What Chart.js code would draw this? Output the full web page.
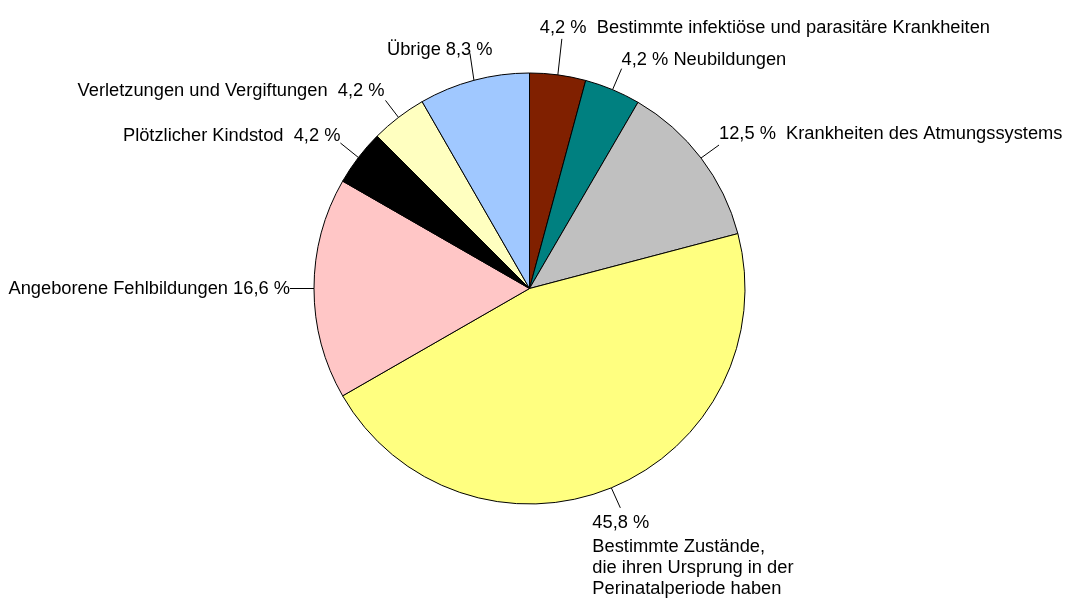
<!DOCTYPE html>
<html>
<head>
<meta charset="utf-8">
<script src="https://cdn.jsdelivr.net/npm/chart.js@4/dist/chart.umd.min.js"></script>
<style>
  html, body { margin: 0; padding: 0; background: #fff; }
  canvas { display: block; }
</style>
</head>
<body>
<canvas id="c" width="1070" height="601"></canvas>
<script>
// ---- data ----
const categories = [
  "Bestimmte infektiöse und parasitäre Krankheiten",
  "Neubildungen",
  "Krankheiten des Atmungssystems",
  "Bestimmte Zustände, die ihren Ursprung in der Perinatalperiode haben",
  "Angeborene Fehlbildungen",
  "Plötzlicher Kindstod",
  "Verletzungen und Vergiftungen",
  "Übrige"
];
const shares = [4.2, 4.2, 12.5, 45.8, 16.6, 4.2, 4.2, 8.3];
const sliceColors = ["#802000", "#008080", "#c0c0c0", "#ffff80", "#ffc6c6", "#000000", "#ffffc0", "#a0c8ff"];

// label text lines (as printed in the chart)
const labelLines = [
  ["4,2 %  Bestimmte infektiöse und parasitäre Krankheiten"],
  ["4,2 % Neubildungen"],
  ["12,5 %  Krankheiten des Atmungssystems"],
  ["45,8 %", "Bestimmte Zustände,", "die ihren Ursprung in der", "Perinatalperiode haben"],
  ["Angeborene Fehlbildungen 16,6 %"],
  ["Plötzlicher Kindstod  4,2 %"],
  ["Verletzungen und Vergiftungen  4,2 %"],
  ["Übrige 8,3 %"]
];

// ---- label layout (leader end offset from slice edge, text offset from leader end) ----
const leaderOffsets = [[4,-36],[9,-21],[18,-13],[9,20],[-24,0],[-18,-14.5],[-13,-17],[-4,-27]];
const textOffsets = [[-22,-6],[0,-4],[0,-6],[-28,20],[0,5.5],[0,-2],[-1,-4],[-83,2]];
const textAlign = ["left","left","left","left","right","right","right","left"];
const lineGaps = [0, 24, 45, 66];

const FONT = "18.3px 'Liberation Sans', Arial, sans-serif";

const labelPlugin = {
  id: 'leaderLabels',
  afterDraw(chart) {
    const ctx = chart.ctx;
    const meta = chart.getDatasetMeta(0);
    ctx.save();
    ctx.font = FONT;
    ctx.fillStyle = '#000';
    ctx.strokeStyle = '#000';
    ctx.lineWidth = 1;
    ctx.textBaseline = 'alphabetic';
    meta.data.forEach((arc, i) => {
      const p = arc.getProps(['x','y','startAngle','endAngle','outerRadius'], true);
      const mid = (p.startAngle + p.endAngle) / 2;
      const ax = p.x + Math.cos(mid) * p.outerRadius;
      const ay = p.y + Math.sin(mid) * p.outerRadius;
      const ex = ax + leaderOffsets[i][0];
      const ey = ay + leaderOffsets[i][1];
      ctx.beginPath();
      ctx.moveTo(ax, ay);
      ctx.lineTo(ex, ey);
      ctx.stroke();
      ctx.textAlign = textAlign[i];
      const tx = ex + textOffsets[i][0];
      const ty = ey + textOffsets[i][1];
      labelLines[i].forEach((line, k) => {
        ctx.fillText(line, tx, ty + lineGaps[k]);
      });
    });
    ctx.restore();
  }
};

new Chart(document.getElementById('c'), {
  type: 'pie',
  data: {
    labels: categories,
    datasets: [{
      data: shares,
      backgroundColor: sliceColors,
      borderColor: '#000',
      borderWidth: 1,
      radius: 215.5
    }]
  },
  options: {
    responsive: false,
    animation: false,
    devicePixelRatio: 1,
    layout: { padding: { left: 0, right: 11, top: 0, bottom: 24 } },
    plugins: {
      legend: { display: false },
      tooltip: { enabled: false }
    }
  },
  plugins: [labelPlugin]
});
</script>
</body>
</html>
